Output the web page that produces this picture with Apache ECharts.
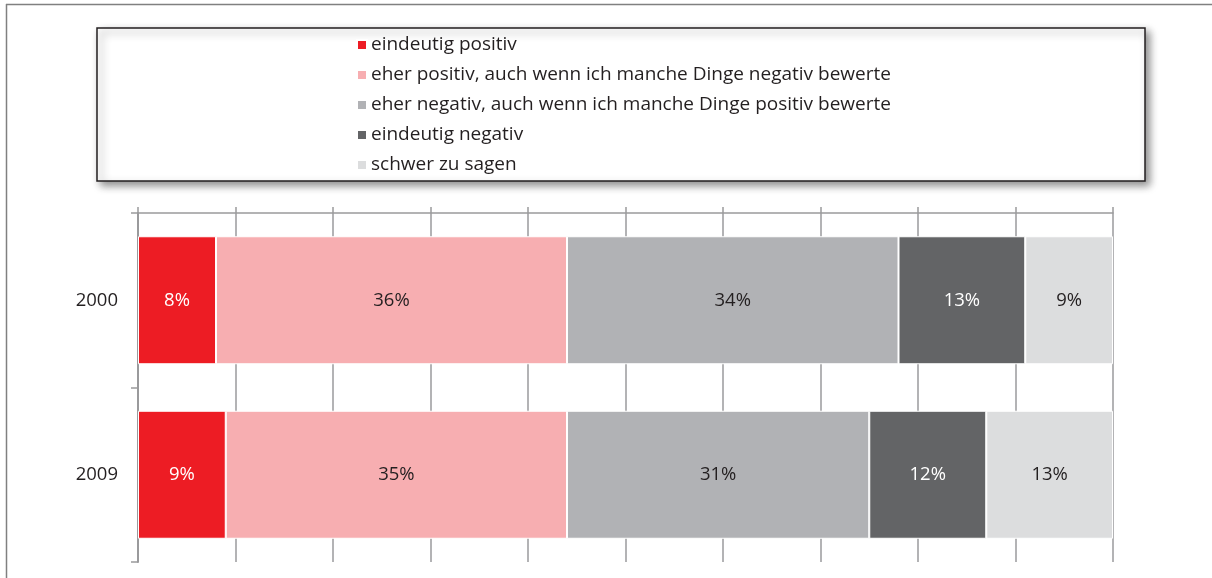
<!DOCTYPE html>
<html>
<head>
<meta charset="utf-8">
<script src="https://cdn.jsdelivr.net/npm/echarts@6/dist/echarts.min.js"></script>
<style>
  html, body { margin: 0; padding: 0; background: #fff; }
  #main { width: 1212px; height: 578px; }
</style>
</head>
<body>
<div id="main"></div>
<script>
// data
const years = ['2000', '2009'];
const seriesNames = [
  'eindeutig positiv',
  'eher positiv, auch wenn ich manche Dinge negativ bewerte',
  'eher negativ, auch wenn ich manche Dinge positiv bewerte',
  'eindeutig negativ',
  'schwer zu sagen'
];
const eindeutigPositiv = [8, 9];
const eherPositiv = [36, 35];
const eherNegativ = [34, 31];
const eindeutigNegativ = [13, 12];
const schwerZuSagen = [9, 13];

const colors = ['#ed1c24', '#f7aeb1', '#b1b2b5', '#636466', '#dcddde'];
const labelColors = ['#fff', '#231f20', '#231f20', '#fff', '#231f20'];
const values = [eindeutigPositiv, eherPositiv, eherNegativ, eindeutigNegativ, schwerZuSagen];

const font = 'Open Sans';
const fs = 18.5;

let myChart = echarts.init(document.getElementById('main'));
let option = {
  animation: false,
  textStyle: { fontFamily: font },
  graphic: [
    { type: 'line', shape: { x1: 6, y1: 4.5, x2: 1212, y2: 4.5 }, style: { stroke: '#808080', lineWidth: 1.5 } },
    { type: 'line', shape: { x1: 6.5, y1: 4, x2: 6.5, y2: 578 }, style: { stroke: '#808080', lineWidth: 1.5 } },
    {
      type: 'rect', z: -1,
      shape: { x: 97, y: 28, width: 1048, height: 153 },
      style: {
        fill: '#fff', stroke: '#231f20', lineWidth: 1.5,
        shadowBlur: 8, shadowOffsetX: 4, shadowOffsetY: 4, shadowColor: 'rgba(0,0,0,0.45)'
      }
    }
  ],
  legend: {
    orient: 'vertical',
    left: 351,
    top: 30,
    itemWidth: 10,
    itemHeight: 10,
    itemGap: 10,
    icon: 'rect',
    textStyle: { fontSize: 19, lineHeight: 20, color: '#231f20', fontFamily: font, padding: [0, 0, 0, -1] },
    data: seriesNames
  },
  grid: { left: 138, right: 99, top: 213, bottom: 16 },
  xAxis: {
    type: 'value',
    position: 'top',
    min: 0,
    max: 100,
    interval: 10,
    axisLine: { show: true, lineStyle: { color: '#9a9a9c', width: 1.5 } },
    axisTick: { show: true, length: 6, lineStyle: { color: '#9a9a9c', width: 1.5 } },
    axisLabel: { show: false },
    splitLine: { show: true, lineStyle: { color: '#9a9a9c', width: 1.5 } }
  },
  yAxis: {
    type: 'category',
    inverse: true,
    data: years,
    axisLine: { show: true, lineStyle: { color: '#9a9a9c', width: 2 } },
    axisTick: { show: true, length: 7, lineStyle: { color: '#9a9a9c', width: 1.5 } },
    axisLabel: { fontSize: fs, color: '#231f20', margin: 20, fontFamily: font }
  },
  series: seriesNames.map((name, i) => ({
    name: name,
    type: 'bar',
    stack: 'total',
    barWidth: 128,
    data: values[i],
    itemStyle: { color: colors[i], borderColor: '#fff', borderWidth: 1 },
    label: {
      show: true,
      position: 'inside',
      formatter: '{c}%',
      fontSize: fs,
      color: labelColors[i],
      fontFamily: font
    }
  }))
};
myChart.setOption(option);
</script>
</body>
</html>
